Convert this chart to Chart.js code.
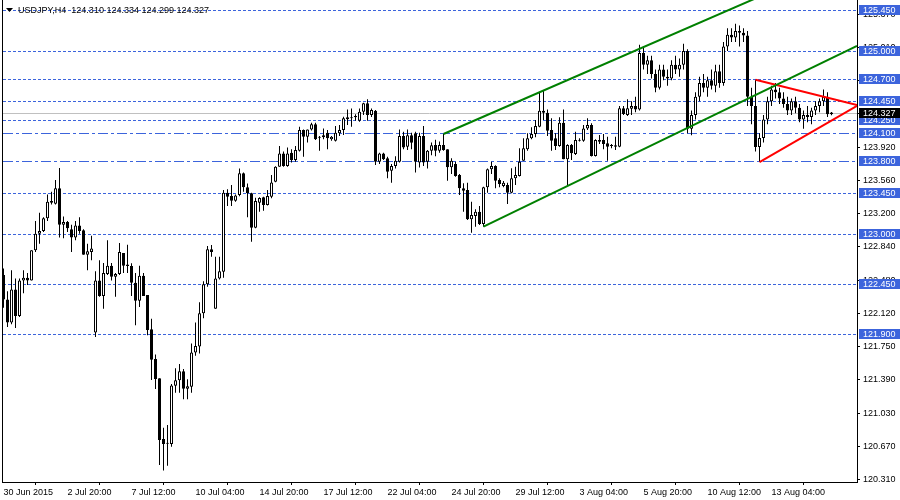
<!DOCTYPE html>
<html><head><meta charset="utf-8">
<script src="https://cdn.jsdelivr.net/npm/chart.js@4.4.1/dist/chart.umd.min.js"></script>
<style>html,body{margin:0;padding:0;background:#fff;}#wrap{position:relative;width:900px;height:500px;}</style>
</head><body><div id="wrap"><canvas id="c" width="900" height="500"></canvas></div>
<script>
const opens = [
122.55,122.28,122.03,122.39,122.10,122.49,122.52,122.49,122.82,123.00,
123.03,123.17,123.34,123.33,123.50,123.10,123.13,123.05,122.96,123.09,
123.04,122.77,122.80,121.92,122.49,122.32,122.56,122.65,122.53,122.56,
122.79,122.665,122.648,122.465,122.268,122.54,122.33,121.955,121.63,121.42,
120.754,120.706,120.70,121.338,121.396,121.495,121.305,121.327,121.70,121.765,
122.13,122.447,122.83,122.18,122.51,122.585,123.45,123.414,123.363,123.425,
123.662,123.51,123.443,123.067,123.34,123.40,123.315,123.406,123.57,123.735,
123.88,123.742,123.888,123.808,123.91,124.136,124.063,124.143,124.20,124.063,
124.056,124.107,124.034,124.02,124.10,124.136,124.275,124.275,124.275,124.238,
124.337,124.428,124.30,124.348,123.79,123.88,123.826,123.69,123.742,123.79,
124.07,123.954,124.08,124.10,123.78,124.07,123.79,123.91,123.972,123.91,
123.972,123.925,123.728,123.764,123.644,123.498,123.48,123.158,123.195,123.242,
123.107,123.509,123.706,123.742,123.589,123.523,123.534,123.45,123.607,123.633,
123.80,123.925,124.045,124.093,124.173,124.348,124.326,124.136,124.045,123.96,
124.216,123.815,123.972,123.874,124.02,124.02,124.154,124.191,123.852,124.027,
124.027,123.99,123.96,123.954,123.954,124.374,124.30,124.37,124.40,124.36,
124.98,124.85,124.90,124.75,124.60,124.80,124.72,124.70,124.85,124.80,
124.85,125.00,124.15,124.30,124.50,124.65,124.60,124.68,124.62,124.78,
124.65,125.05,125.18,125.15,125.22,125.20,125.17,124.50,124.40,123.95,
124.05,124.25,124.45,124.58,124.55,124.48,124.42,124.35,124.45,124.38,
124.25,124.30,124.28,124.35,124.40,124.45,124.50,124.310];
const highs = [
122.62,122.37,122.60,122.51,122.51,122.60,122.57,122.82,123.14,123.23,
123.18,123.43,123.46,123.59,123.72,123.19,123.14,123.10,123.14,123.18,
123.05,122.89,122.98,122.59,122.71,122.68,122.93,122.68,122.57,122.90,
122.79,122.88,122.677,122.57,122.65,122.57,122.33,122.07,121.68,121.42,
120.878,120.907,121.356,121.527,121.575,121.52,121.407,121.80,122.03,122.25,
122.48,122.867,122.877,122.75,122.75,123.48,123.487,123.534,123.43,123.716,
123.67,123.55,123.45,123.395,123.40,123.406,123.48,123.643,123.74,123.96,
123.90,123.946,123.925,123.96,124.173,124.143,124.143,124.216,124.216,124.07,
124.154,124.136,124.07,124.18,124.19,124.282,124.362,124.373,124.31,124.373,
124.435,124.472,124.373,124.355,123.888,123.888,123.844,123.764,123.85,124.143,
124.118,124.143,124.107,124.118,124.107,124.18,123.917,124.00,124.03,124.01,
124.093,123.925,123.826,123.79,123.655,123.553,123.56,123.352,123.268,123.304,
123.515,123.715,123.79,123.75,123.607,123.578,123.56,123.717,123.735,123.936,
124.045,124.10,124.166,124.246,124.556,124.567,124.362,124.264,124.10,124.275,
124.362,123.98,123.983,124.118,124.045,124.19,124.264,124.21,124.034,124.082,
124.093,124.063,123.983,124.063,124.40,124.40,124.472,124.45,124.50,125.07,
125.05,124.95,124.95,124.80,124.85,124.85,124.80,124.90,124.95,124.92,
125.08,125.02,124.35,124.55,124.72,124.75,124.72,124.80,124.85,124.85,
125.10,125.25,125.25,125.30,125.28,125.25,125.22,124.60,124.686,124.10,
124.30,124.50,124.62,124.65,124.60,124.55,124.50,124.48,124.50,124.42,
124.35,124.40,124.38,124.45,124.48,124.58,124.55,124.334];
const lows = [
122.19,121.98,122.01,121.97,122.09,122.35,122.44,122.49,122.80,122.89,
123.02,123.14,123.32,123.32,122.96,122.95,123.02,122.80,122.93,123.00,
122.77,122.60,122.71,121.87,122.31,122.18,122.55,122.49,122.31,122.55,
122.57,122.57,122.32,122.00,122.20,122.32,121.89,121.40,121.30,120.47,
120.41,120.46,120.67,121.261,121.26,121.19,121.19,121.26,121.666,121.69,
122.075,122.42,122.75,122.18,122.50,122.52,123.304,123.304,123.35,123.41,
123.461,123.18,122.914,123.06,123.242,123.253,123.31,123.39,123.565,123.735,
123.735,123.735,123.78,123.79,123.90,123.844,124.00,124.13,124.027,123.91,
124.034,123.925,124.02,124.01,124.07,124.081,124.19,124.173,124.238,124.227,
124.30,124.238,124.28,123.753,123.764,123.808,123.607,123.56,123.716,123.78,
123.925,123.917,123.925,123.67,123.727,123.742,123.716,123.86,123.85,123.888,
123.91,123.582,123.655,123.625,123.425,123.242,123.151,123.012,123.078,123.096,
123.078,123.45,123.655,123.498,123.51,123.51,123.326,123.443,123.534,123.626,
123.80,123.91,124.034,124.056,124.166,124.246,124.07,123.91,123.917,123.954,
123.815,123.523,123.808,123.863,124.01,124.009,124.136,123.845,123.845,123.983,
123.925,123.80,123.936,123.917,123.947,124.30,124.29,124.30,124.33,124.35,
124.80,124.75,124.70,124.55,124.58,124.68,124.62,124.68,124.75,124.72,
124.80,124.10,124.08,124.25,124.45,124.55,124.50,124.58,124.55,124.60,
124.62,125.00,125.10,125.10,125.05,125.10,124.40,124.20,123.90,123.785,
124.00,124.20,124.40,124.48,124.42,124.38,124.30,124.30,124.32,124.22,
124.15,124.22,124.20,124.30,124.33,124.40,124.28,124.299];
const closes = [
122.28,122.03,122.39,122.10,122.49,122.52,122.49,122.82,123.00,123.03,
123.17,123.35,123.36,123.50,123.10,123.13,123.06,122.96,123.09,123.03,
122.77,122.81,122.84,122.49,122.32,122.57,122.65,122.53,122.56,122.80,
122.65,122.648,122.465,122.268,122.54,122.32,121.947,121.62,121.41,120.743,
120.70,120.703,121.34,121.396,121.495,121.305,121.33,121.70,121.772,122.13,
122.447,122.83,122.80,122.51,122.59,123.45,123.406,123.363,123.42,123.662,
123.509,123.443,123.067,123.359,123.392,123.315,123.414,123.563,123.735,123.88,
123.742,123.88,123.808,123.917,124.136,124.063,124.143,124.20,124.034,124.052,
124.08,124.045,124.063,124.107,124.136,124.264,124.253,124.264,124.29,124.337,
124.428,124.30,124.355,123.79,123.88,123.815,123.68,123.742,123.80,124.07,
123.946,124.08,123.997,123.79,124.07,123.78,123.91,123.97,123.91,123.972,
123.917,123.728,123.80,123.633,123.498,123.472,123.158,123.206,123.242,123.107,
123.509,123.706,123.742,123.582,123.545,123.56,123.45,123.607,123.644,123.79,
123.936,124.045,124.093,124.18,124.348,124.326,124.129,124.02,123.96,124.216,
123.815,123.972,123.881,124.027,124.027,124.154,124.191,123.852,124.027,124.009,
123.983,123.954,123.965,123.97,124.374,124.312,124.374,124.40,124.36,124.98,
124.85,124.90,124.75,124.60,124.80,124.72,124.70,124.85,124.80,124.85,
125.00,124.15,124.30,124.50,124.65,124.60,124.68,124.62,124.78,124.65,
125.05,125.18,125.15,125.22,125.20,125.17,124.50,124.40,123.95,124.05,
124.25,124.45,124.58,124.55,124.48,124.42,124.35,124.45,124.38,124.25,
124.30,124.28,124.35,124.40,124.45,124.50,124.31,124.327];

const xTickBars = [0,16,32,48,64,80,96,112,128,144,160,176,192];
const xTickLabels = ['30 Jun 2015','2 Jul 20:00','7 Jul 12:00','10 Jul 04:00','14 Jul 20:00','17 Jul 12:00','22 Jul 04:00','24 Jul 20:00','29 Jul 12:00','3 Aug 04:00','5 Aug 20:00','10 Aug 12:00','13 Aug 04:00'];
const yTickValues = [120.310,120.674,121.038,121.402,121.766,122.130,122.494,122.858,123.222,123.586,123.950,124.314,124.678,125.042,125.406];
const yTickLabels = ['120.310','120.670','121.030','121.390','121.750','122.120','122.480','122.840','123.200','123.560','123.920','124.290','124.650','125.010','125.370'];
const levels = [125.450,125.000,124.700,124.450,124.250,124.100,123.800,123.450,123.000,122.450,121.900];
const levelDashDot = [false,false,false,false,false,true,true,false,false,false,false];
const currentPrice = 124.327;
const titleText = 'USDJPY,H4  124.310 124.334 124.299 124.327';
const channelUpperBars = [110, 213.375];
const channelUpperPrices = [124.093, 126.06];
const channelLowerBars = [120, 213.375];
const channelLowerPrices = [123.078, 125.056];
const triUpperBars = [188, 213.375];
const triUpperPrices = [124.686, 124.41];
const triLowerBars = [189, 213.375];
const triLowerPrices = [123.785, 124.40];

const X_MIN = -0.375, X_MAX = 213.375, Y_MIN = 120.283, Y_MAX = 125.5595;
const BLUE = '#3c64dc';
const FONT = 'Liberation Sans';

const bodyData = opens.map((o,i)=>({x:i, y:[o, closes[i]]}));
const wickData = lows.map((l,i)=>({x:i, y:[l, highs[i]]}));
const bodyColors = opens.map((o,i)=> closes[i] >= o ? '#ffffff' : '#000000');
const seg = (bars, prices) => bars.map((b,k)=>({x:b, y:prices[k]}));

const datasets = [];
[[channelUpperBars,channelUpperPrices,'#008000'],[channelLowerBars,channelLowerPrices,'#008000'],
 [triUpperBars,triUpperPrices,'#ff0000'],[triLowerBars,triLowerPrices,'#ff0000']].forEach(([b,p,c])=>{
  datasets.push({type:'line', data:seg(b,p), borderColor:c, borderWidth:2, pointRadius:0, order:0});
});
datasets.push({type:'bar', data:bodyData, backgroundColor:bodyColors, borderColor:'#000', borderWidth:1,
  borderSkipped:false, barThickness:3, grouped:false, minBarLength:1, inflateAmount:0, order:1});
datasets.push({type:'bar', data:wickData, backgroundColor:'#000', borderWidth:0,
  barThickness:1, grouped:false, inflateAmount:0, order:2});

const behind = {
  id:'behind',
  beforeDatasetsDraw(chart){
    const ctx = chart.ctx, ys = chart.scales.y, a = chart.chartArea;
    ctx.save();
    ctx.lineWidth = 1;
    const yc = Math.round(ys.getPixelForValue(currentPrice)) + 0.5;
    ctx.strokeStyle = '#c0c0c0';
    ctx.beginPath(); ctx.moveTo(a.left, yc); ctx.lineTo(a.right, yc); ctx.stroke();
    ctx.strokeStyle = BLUE;
    levels.forEach((lv,k)=>{
      const y = Math.round(ys.getPixelForValue(lv)) + 0.5;
      ctx.setLineDash(levelDashDot[k] ? [10,3,3,3] : [3,2]);
      ctx.beginPath(); ctx.moveTo(a.left+1, y); ctx.lineTo(a.right, y); ctx.stroke();
    });
    ctx.restore();
  }
};

const overlay = {
  id:'overlay',
  afterDraw(chart){
    const ctx = chart.ctx, ys = chart.scales.y, a = chart.chartArea;
    ctx.save();
    ctx.strokeStyle = '#000'; ctx.lineWidth = 1;
    ctx.beginPath(); ctx.moveTo(a.left+0.5, 0); ctx.lineTo(a.left+0.5, a.bottom); ctx.stroke();
    ctx.font = '9px "' + FONT + '"';
    ctx.textBaseline = 'middle'; ctx.textAlign = 'left';
    levels.forEach(lv=>{
      const y = Math.round(ys.getPixelForValue(lv));
      ctx.fillStyle = BLUE; ctx.fillRect(a.right+2, y-5, 900-a.right-2, 10);
      ctx.fillStyle = '#fff'; ctx.fillText(lv.toFixed(3), a.right+6, y+0.5);
    });
    const yc = Math.round(ys.getPixelForValue(currentPrice));
    ctx.fillStyle = '#000'; ctx.fillRect(a.right+2, yc-5, 900-a.right-2, 10);
    ctx.fillStyle = '#fff'; ctx.fillText(currentPrice.toFixed(3), a.right+6, yc+0.5);
    ctx.fillStyle = '#000';
    ctx.beginPath(); ctx.moveTo(6,8); ctx.lineTo(13,8); ctx.lineTo(9.5,12); ctx.closePath(); ctx.fill();
    ctx.fillText(titleText, 18, 10.5);
    ctx.restore();
  }
};

new Chart(document.getElementById('c'), {
  type:'bar',
  data:{datasets},
  options:{
    responsive:false, animation:false,
    layout:{padding:{left:2, top:0, right:0, bottom:0}},
    plugins:{legend:{display:false}, tooltip:{enabled:false}},
    scales:{
      x:{type:'linear', min:X_MIN, max:X_MAX, offset:false,
        afterBuildTicks:(s)=>{ s.ticks = xTickBars.map(v=>({value:v})); },
        afterFit:(s)=>{ s.height = 18; s.paddingLeft = 0; s.paddingRight = 0; },
        grid:{display:true, drawOnChartArea:false, drawTicks:true, tickLength:3, color:'#000'},
        border:{display:true, color:'#000', width:1},
        ticks:{autoSkip:false, maxRotation:0, minRotation:0, align:'start', padding:2, color:'#000',
          font:{family:FONT, size:9}, callback:(v)=>xTickLabels[xTickBars.indexOf(v)]}
      },
      y:{type:'linear', position:'right', min:Y_MIN, max:Y_MAX,
        afterBuildTicks:(s)=>{ s.ticks = yTickValues.map(v=>({value:v})); },
        afterFit:(s)=>{ s.width = 43; s.paddingTop = 0; s.paddingBottom = 0; },
        grid:{display:true, drawOnChartArea:false, drawTicks:true, tickLength:3, color:'#000'},
        border:{display:true, color:'#000', width:1},
        ticks:{autoSkip:false, padding:3, color:'#000', font:{family:FONT, size:9},
          callback:(v)=>{ const k = yTickValues.indexOf(v); return k>=0 ? yTickLabels[k] : ''; }}
      }
    }
  },
  plugins:[behind, overlay]
});
</script>
</body></html>
